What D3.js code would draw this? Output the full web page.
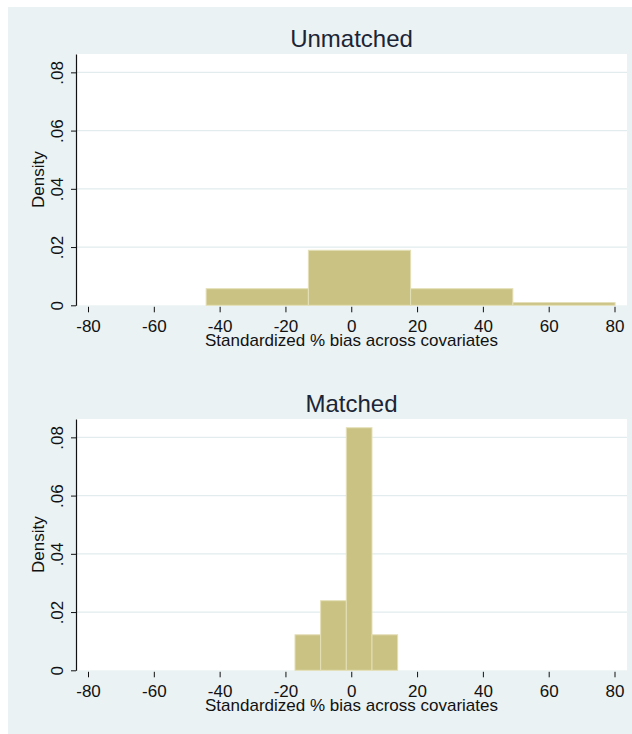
<!DOCTYPE html>
<html>
<head>
<meta charset="utf-8">
<script src="https://cdn.jsdelivr.net/npm/d3@7"></script>
<style>
  body { margin: 0; background: #fff; }
  text { font-family: "Liberation Sans", Arial, sans-serif; }
</style>
</head>
<body>
<svg id="chart" width="632" height="734"></svg>
<script>
// ---- data ----
const panelTitles = ["Unmatched", "Matched"];
const xTickValues = [-80, -60, -40, -20, 0, 20, 40, 60, 80];
const yTickValues = [0, 0.02, 0.04, 0.06, 0.08];
const yTickLabels = ["0", ".02", ".04", ".06", ".08"];
const xAxisTitle = "Standardized % bias across covariates";
const yAxisTitle = "Density";

// Unmatched histogram: bin start, bin width, densities
const unmatchedBinStart = -44.1;
const unmatchedBinWidth = 31.07;
const unmatchedDensity = [0.0057, 0.0189, 0.0057, 0.00093];

// Matched histogram
const matchedBinStart = -17.1;
const matchedBinWidth = 7.8;
const matchedDensity = [0.0122, 0.0239, 0.0833, 0.0122];

// ---- layout ----
const svg = d3.select("#chart");
const W = 632, H = 734;
svg.append("rect").attr("width", W).attr("height", H).attr("fill", "#ffffff");
svg.append("rect").attr("x", 8).attr("y", 7).attr("width", W - 8).attr("height", H - 7)
   .attr("fill", "#eaf2f3");

const plotLeft = 76, plotRight = 627;
const panelHeight = 251.3;
const panelTops = [54, 419];
const yMax = 0.0863;

const x = d3.scaleLinear().domain([-80, 80]).range([88, 614.5]);

const fillColor = "#cac283";
const strokeColor = "#e4dfb6";

function drawPanel(idx, binStart, binWidth, dens) {
  const top = panelTops[idx];
  const bottom = top + panelHeight;
  const y = d3.scaleLinear().domain([0, yMax]).range([bottom, top]);
  const g = svg.append("g");

  // plot region
  g.append("rect").attr("x", plotLeft).attr("y", top)
    .attr("width", plotRight - plotLeft).attr("height", bottom - top)
    .attr("fill", "#ffffff");

  // grid lines
  g.selectAll("line.grid").data(yTickValues.filter(v => v > 0)).enter()
    .append("line").attr("class", "grid")
    .attr("x1", plotLeft).attr("x2", plotRight)
    .attr("y1", d => y(d)).attr("y2", d => y(d))
    .attr("stroke", "#e2ebee").attr("stroke-width", 1.2);

  // bars
  const bins = dens.map((d, i) => ({ x0: binStart + i * binWidth, x1: binStart + (i + 1) * binWidth, d }));
  g.selectAll("rect.bar").data(bins).enter().append("rect")
    .attr("class", "bar")
    .attr("x", b => x(b.x0))
    .attr("width", b => x(b.x1) - x(b.x0))
    .attr("y", b => y(b.d))
    .attr("height", b => y(0) - y(b.d))
    .attr("fill", fillColor)
    .attr("stroke", strokeColor)
    .attr("stroke-width", 1);

  // y axis
  const yAxis = d3.axisLeft(y).tickValues(yTickValues)
    .tickFormat((d, i) => yTickLabels[i]).tickSizeInner(5).tickSizeOuter(0);
  const ya = g.append("g").attr("transform", `translate(${plotLeft},0)`).call(yAxis);
  ya.select(".domain").attr("stroke", "#111").attr("stroke-width", 1.2);
  ya.selectAll(".tick line").attr("stroke", "#111");
  ya.selectAll(".tick text")
    .attr("x", null).attr("dy", null)
    .attr("transform", "translate(-13,0) rotate(-90)")
    .attr("text-anchor", "middle")
    .attr("fill", "#111")
    .style("font-size", "17px");

  // x axis
  const xAxis = d3.axisBottom(x).tickValues(xTickValues)
    .tickFormat(d3.format("d")).tickSizeInner(5.5).tickSizeOuter(0);
  const xa = g.append("g").attr("transform", `translate(0,${bottom + 1.5})`).call(xAxis);
  xa.select(".domain").remove();
  xa.selectAll(".tick line").attr("stroke", "#111");
  xa.selectAll(".tick text")
    .attr("y", null).attr("dy", null)
    .attr("transform", "translate(0,25.5)")
    .attr("fill", "#111")
    .style("font-size", "17px")
    .text(d => d < 0 ? "-" + Math.abs(d) : String(d));

  // titles
  const cx = (plotLeft + plotRight) / 2;
  g.append("text").attr("x", cx).attr("y", top - 7.5)
    .attr("text-anchor", "middle").attr("fill", "#1b2536")
    .style("font-size", "24px").text(panelTitles[idx]);
  g.append("text").attr("x", cx).attr("y", bottom + 40.5)
    .attr("text-anchor", "middle").attr("fill", "#111")
    .style("font-size", "17px").text(xAxisTitle);
  g.append("text")
    .attr("transform", `translate(44,${(top + bottom) / 2}) rotate(-90)`)
    .attr("text-anchor", "middle").attr("fill", "#111")
    .style("font-size", "17px").text(yAxisTitle);
}

drawPanel(0, unmatchedBinStart, unmatchedBinWidth, unmatchedDensity);
drawPanel(1, matchedBinStart, matchedBinWidth, matchedDensity);
</script>
</body>
</html>
